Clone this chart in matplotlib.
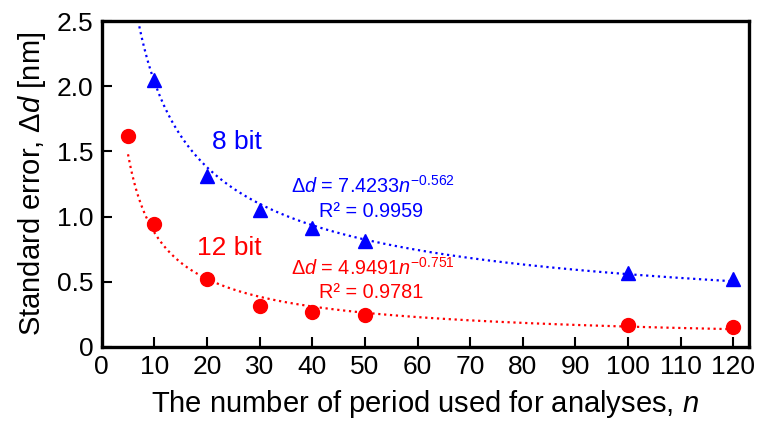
import numpy as np
import matplotlib
matplotlib.use('Agg')
import matplotlib.pyplot as plt

plt.rcParams['font.family'] = ['Liberation Sans', 'DejaVu Sans']
plt.rcParams['mathtext.fontset'] = 'custom'
plt.rcParams['mathtext.rm'] = 'Liberation Sans'
plt.rcParams['mathtext.it'] = 'Liberation Sans:italic'
plt.rcParams['mathtext.default'] = 'regular'

# measured standard error [nm]
n_8bit = [10, 20, 30, 40, 50, 100, 120]
err_8bit = [2.05, 1.31, 1.05, 0.915, 0.815, 0.57, 0.52]
n_12bit = [5, 10, 20, 30, 40, 50, 100, 120]
err_12bit = [1.615, 0.946, 0.523, 0.315, 0.27, 0.246, 0.17, 0.154]

# power-law fits shown on the chart
fit_8bit = (7.4233, -0.562)
fit_12bit = (4.9491, -0.751)

xticks = [0, 10, 20, 30, 40, 50, 60, 70, 80, 90, 100, 110, 120]
yticks = [0, 0.5, 1.0, 1.5, 2.0, 2.5]
ytick_labels = ['0', '0.5', '1.0', '1.5', '2.0', '2.5']

blue = '#0000ff'
red = '#ff0000'

fig = plt.figure(figsize=(7.59, 4.21), dpi=100)
ax = fig.add_axes([0.134, 0.176, 0.853, 0.774])

nb = np.linspace(6.5, 120, 300)
nr = np.linspace(5, 120, 300)
ax.plot(nb, fit_8bit[0] * nb ** fit_8bit[1], ':', color=blue, lw=1.6)
ax.plot(nr, fit_12bit[0] * nr ** fit_12bit[1], ':', color=red, lw=1.6)

ax.plot(n_8bit, err_8bit, '^', color=blue, ms=10, ls='none')
ax.plot(n_12bit, err_12bit, 'o', color=red, ms=10, ls='none')

ax.text(25.6, 1.57, '8 bit', color=blue, fontsize=19, ha='center', va='center')
ax.text(24.3, 0.76, '12 bit', color=red, fontsize=19, ha='center', va='center')

ax.text(36, 1.185, r'$\Delta\mathit{d}$ = 7.4233$\mathit{n}^{-0.562}$', color=blue,
        fontsize=14.3, ha='left', va='baseline')
ax.text(41.3, 1.0, 'R² = 0.9959', color=blue, fontsize=14.3, ha='left', va='baseline')
ax.text(36, 0.554, r'$\Delta\mathit{d}$ = 4.9491$\mathit{n}^{-0.751}$', color=red,
        fontsize=14.3, ha='left', va='baseline')
ax.text(41.3, 0.377, 'R² = 0.9781', color=red, fontsize=14.3, ha='left', va='baseline')

ax.set_xlim(0, 123)
ax.set_ylim(0, 2.5)
ax.set_xticks(xticks)
ax.set_yticks(yticks)
ax.set_yticklabels(ytick_labels)
ax.tick_params(direction='in', length=7, width=1.5, labelsize=19, pad=6)
for s in ax.spines.values():
    s.set_linewidth(2.4)

ax.set_xlabel(r'The number of period used for analyses, $\mathit{n}$', fontsize=21, labelpad=6)
ax.set_ylabel(r'Standard error, $\Delta\mathit{d}$ [nm]', fontsize=21, labelpad=6)

fig.savefig('out.png', dpi=100)
